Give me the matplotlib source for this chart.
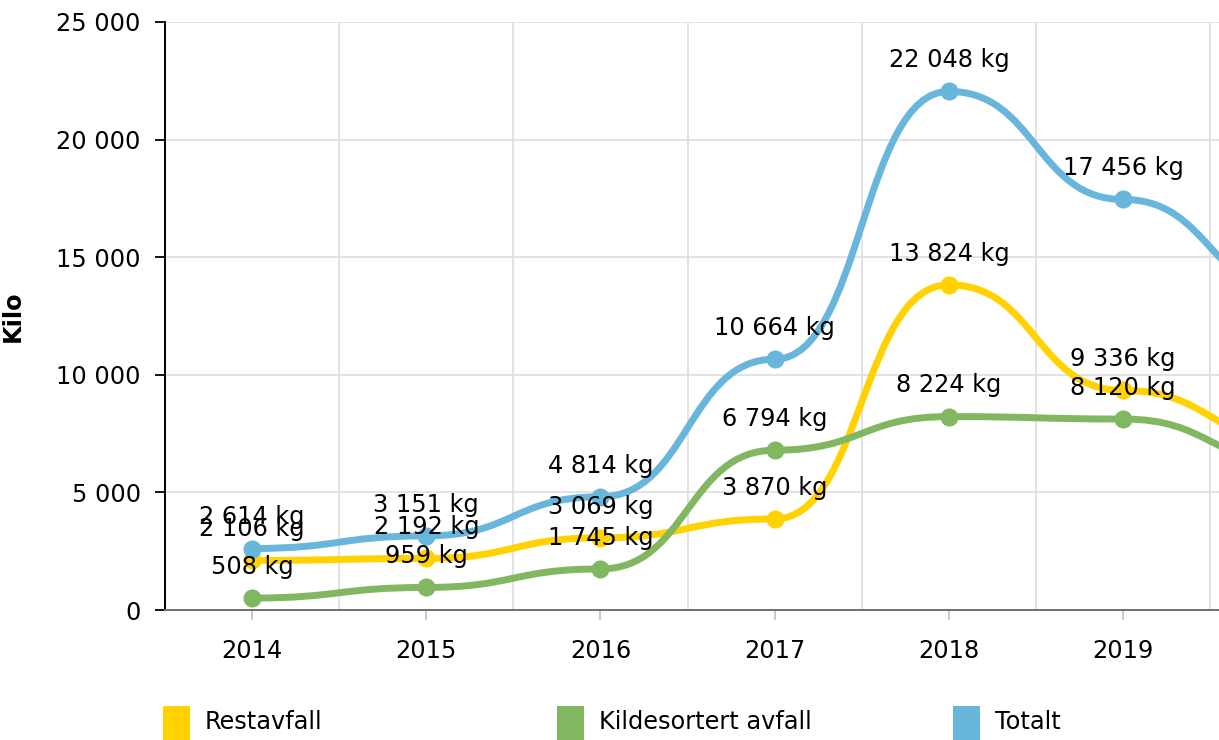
# plot.py
# Recreates the waste chart (kilo per year) with smooth curved lines.

import numpy as np
import matplotlib
matplotlib.use("Agg")
import matplotlib.pyplot as plt
from matplotlib.path import Path
from matplotlib.patches import PathPatch, Rectangle

# Category labels (2020 lies just outside the visible area).
years = ["2014", "2015", "2016", "2017", "2018", "2019", "2020"]

# Series values in kilo.
restavfall = [2106, 2192, 3069, 3870, 13824, 9336, 7150]
kildesortert = [508, 959, 1745, 6794, 8224, 8120, 6250]
totalt = [2614, 3151, 4814, 10664, 22048, 17456, 13400]

# Series names and colours.
names = ["Restavfall", "Kildesortert avfall", "Totalt"]
colors = ["#ffd200", "#82b762", "#68b6dc"]
series = [restavfall, kildesortert, totalt]

# Y axis ticks.
y_ticks = [0, 5000, 10000, 15000, 20000, 25000]

plt.rcParams["font.family"] = ["DejaVu Sans"]
FS = 17.3


def fmt(v):
    # Thousands separated by a space.
    return f"{int(v):,}".replace(",", " ")


def curve_path(xs, ys):
    # Cubic segments with flat tangents at every point (control points at the mid x).
    verts = [(xs[0], ys[0])]
    codes = [Path.MOVETO]
    for i in range(1, len(xs)):
        xm = (xs[i - 1] + xs[i]) / 2
        verts += [(xm, ys[i - 1]), (xm, ys[i]), (xs[i], ys[i])]
        codes += [Path.CURVE4, Path.CURVE4, Path.CURVE4]
    return Path(verts, codes)


# Figure sized to 1219x740 pixels.
fig = plt.figure(figsize=(12.19, 7.40), dpi=100)
ax = fig.add_axes([165 / 1219, 130 / 740, 1054 / 1219, 588 / 740])

x = np.arange(len(years))

# Draw each series as a curve with round markers.
for k, (vals, color) in enumerate(zip(series, colors)):
    patch = PathPatch(curve_path(x, vals), fill=False, edgecolor=color,
                      linewidth=5, capstyle="round", joinstyle="round", zorder=3 + k)
    ax.add_patch(patch)
    ax.plot(x, vals, linestyle="none", marker="o", markersize=13,
            markerfacecolor=color, markeredgewidth=0, zorder=3 + k)

# Y axis ticks and labels.
ax.set_yticks(y_ticks)
ax.set_yticklabels([fmt(v) for v in y_ticks], fontsize=FS)
ax.tick_params(axis="y", length=7.5, width=1.3, color="black", pad=10)

# X axis ticks at category centres, grid at category boundaries.
ax.set_xticks(x)
ax.set_xticklabels(years, fontsize=FS)
ax.set_xticks(np.arange(len(years)) - 0.5, minor=True)
ax.tick_params(axis="x", which="major", length=7, width=1.2, color="#c0c0c0", pad=14)
ax.tick_params(axis="x", which="minor", length=0)
ax.grid(axis="y", which="major", color="#e0e0e0", linewidth=1.3)
ax.grid(axis="x", which="minor", color="#e0e0e0", linewidth=1.3)
ax.set_axisbelow(True)

# Axis limits (set after the ticks so they are not widened).
ax.set_xlim(-0.5, 5.551)
ax.set_ylim(0, 25000)

# Data labels above each point (points outside the view are skipped).
for vals in series:
    for xi, v in zip(x, vals):
        ax.annotate(f"{fmt(v)} kg", xy=(xi, v), xytext=(0, 22.5), textcoords="offset points",
                    ha="center", va="center", fontsize=FS, color="black", zorder=10)

# Spines.
ax.spines["top"].set_visible(False)
ax.spines["right"].set_visible(False)
ax.spines["left"].set_color("black")
ax.spines["left"].set_linewidth(1.4)
ax.spines["bottom"].set_color("#707070")
ax.spines["bottom"].set_linewidth(1.4)

# Y axis title.
ax.set_ylabel("Kilo", fontsize=FS, fontweight="bold")
ax.yaxis.set_label_coords(-0.133, 0.5)

# Legend drawn along the bottom edge.
legend_x = [163, 557, 953]
for lx, name, color in zip(legend_x, names, colors):
    fig.add_artist(Rectangle((lx / 1219, 0), 27 / 1219, 34 / 740, transform=fig.transFigure,
                             facecolor=color, edgecolor="none"))
    fig.text((lx + 42) / 1219, 18 / 740, name, fontsize=FS, ha="left", va="center")

fig.savefig("out.png", dpi=100)
